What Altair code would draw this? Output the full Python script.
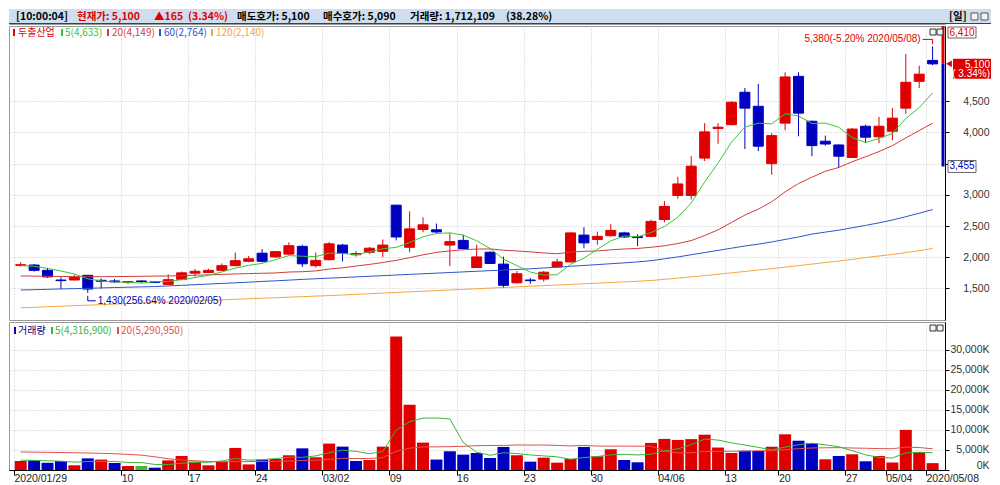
import altair as alt
import pandas as pd

# ---------------- data ----------------
stock_name = "두출산업"
hdr_time = "10:00:04"
cur_price = 5100
change = 165
change_pct = 3.34
ask_price = 5100
bid_price = 5090
vol_today = 1712109
vol_ratio = 38.28
upper_limit = 6410
lower_limit = 3455
hi_date = "2020/05/08"
lo_date = "2020/02/05"

opens = [1870, 1875, 1790, 1635, 1635, 1710, 1630, 1620, 1595, 1620, 1605, 1565, 1645, 1745, 1755,
         1790, 1865, 1935, 2065, 2005, 2050, 2175, 1865, 1960, 2195, 2040, 2080, 2095, 2835, 2160,
         2445, 2440, 2195, 2270, 1835, 2080, 1890, 1590, 1635, 1650, 1845, 1925, 2355, 2285, 2345,
         2390, 2330, 2335, 2605, 2990, 2990, 3590, 4065, 4125, 4645, 4420, 3500, 4150, 4900, 4180,
         3860, 3800, 3600, 4100, 3930, 4020, 4390, 4820, 5155]
highs = [1920, 1892, 1830, 1680, 1720, 1715, 1660, 1650, 1615, 1630, 1612, 1725, 1770, 1810, 1815,
         1900, 2075, 2020, 2130, 2100, 2240, 2200, 2075, 2245, 2215, 2100, 2165, 2285, 2840, 2735,
         2640, 2540, 2390, 2360, 2200, 2095, 2010, 1780, 1665, 1780, 1975, 2395, 2480, 2410, 2530,
         2410, 2370, 2600, 2900, 3290, 3620, 4150, 4150, 4500, 4713, 4777, 3990, 4965, 4965, 4190,
         3950, 3805, 4070, 4125, 4250, 4390, 5258, 5070, 5380]
lows = [1850, 1770, 1670, 1490, 1630, 1430, 1500, 1590, 1570, 1590, 1585, 1555, 1630, 1690, 1745,
        1780, 1855, 1920, 1920, 1990, 2040, 1845, 1835, 1950, 1935, 2010, 2050, 2000, 2270, 2080,
        2400, 2380, 1860, 2125, 1830, 1890, 1505, 1580, 1575, 1610, 1830, 1915, 2145, 2200, 2330,
        2310, 2180, 2320, 2560, 2940, 2925, 3540, 3820, 4115, 3735, 3700, 3323, 4035, 3940, 3620,
        3790, 3430, 3590, 3830, 3830, 3875, 4297, 4713, 5080]
closes = [1880, 1790, 1685, 1625, 1680, 1490, 1615, 1605, 1610, 1610, 1595, 1640, 1750, 1775, 1790,
          1865, 1945, 1975, 1935, 2090, 2185, 1895, 1950, 2215, 2065, 2060, 2145, 2195, 2325, 2455,
          2520, 2405, 2250, 2140, 2005, 1900, 1550, 1735, 1625, 1760, 1925, 2390, 2230, 2335, 2430,
          2325, 2315, 2575, 2815, 3175, 3460, 4010, 4085, 4485, 4390, 3780, 3950, 4890, 4310, 3790,
          3815, 3620, 4055, 3925, 4100, 4230, 4805, 4935, 5100]
# volume in thousands of shares
volumes = [2250, 2400, 1800, 2250, 1170, 2900, 2600, 1750, 1000, 1000, 580, 2400, 3500, 2080, 1170,
           2080, 5500, 1400, 2600, 2750, 3670, 5400, 3170, 6580, 5830, 2250, 2500, 5830, 33300, 16250,
           6830, 2600, 4670, 3830, 4250, 3000, 5750, 3670, 2080, 3080, 1830, 2750, 5750, 3420, 5170,
           2500, 1920, 6750, 7750, 7500, 7700, 8800, 5600, 4250, 4800, 4750, 5800, 8900, 7300, 6670,
           2670, 3500, 3920, 2170, 3500, 1870, 10000, 4500, 1712]
ma5 = [1865, 1855, 1820, 1780, 1732, 1654, 1619, 1603, 1600, 1586, 1607, 1612, 1641, 1674, 1710,
       1764, 1825, 1870, 1902, 1962, 2026, 2016, 2011, 2067, 2062, 2037, 2087, 2136, 2158, 2236,
       2328, 2380, 2391, 2354, 2264, 2140, 1969, 1866, 1763, 1714, 1719, 1887, 1986, 2128, 2262,
       2342, 2327, 2396, 2492, 2641, 2868, 3207, 3509, 3843, 4086, 4150, 4138, 4299, 4264, 4144,
       4151, 4085, 3918, 3841, 3903, 3986, 4223, 4399, 4633]
ma20 = [1700, 1698, 1695, 1692, 1690, 1688, 1688, 1690, 1692, 1695, 1698, 1700, 1705, 1712, 1718,
        1725, 1732, 1738, 1743, 1748, 1763, 1768, 1781, 1811, 1830, 1859, 1885, 1915, 1950, 1993,
        2039, 2077, 2102, 2120, 2131, 2133, 2113, 2101, 2086, 2069, 2056, 2081, 2095, 2101, 2119,
        2132, 2141, 2160, 2184, 2220, 2267, 2348, 2439, 2557, 2676, 2770, 2890, 3048, 3182, 3283,
        3378, 3439, 3531, 3610, 3694, 3789, 3913, 4031, 4149]
ma60 = [1475, 1480, 1486, 1492, 1497, 1502, 1508, 1514, 1520, 1525, 1530, 1540, 1550, 1560, 1570,
        1580, 1590, 1600, 1612, 1622, 1633, 1645, 1655, 1665, 1675, 1685, 1695, 1705, 1715, 1725,
        1735, 1745, 1755, 1765, 1775, 1785, 1795, 1805, 1815, 1828, 1840, 1855, 1868, 1882, 1896,
        1910, 1925, 1945, 1975, 2005, 2040, 2075, 2110, 2145, 2180, 2210, 2245, 2285, 2325, 2371,
        2403, 2434, 2473, 2511, 2551, 2597, 2650, 2706, 2764]
ma120 = [1190, 1198, 1207, 1215, 1224, 1232, 1241, 1249, 1258, 1266, 1275, 1283, 1292, 1300, 1309,
         1317, 1326, 1334, 1343, 1351, 1360, 1368, 1377, 1385, 1395, 1405, 1415, 1425, 1435, 1445,
         1455, 1465, 1475, 1485, 1495, 1505, 1515, 1525, 1535, 1545, 1555, 1565, 1575, 1585, 1595,
         1605, 1615, 1627, 1645, 1665, 1685, 1705, 1727, 1750, 1772, 1795, 1818, 1842, 1866, 1890,
         1915, 1940, 1965, 1995, 2020, 2045, 2075, 2105, 2140]
vma5 = [2450, 2400, 2300, 2200, 1974, 2104, 2144, 2134, 1884, 1850, 1386, 1346, 1696, 1912, 1946,
        2246, 2866, 2446, 2550, 2866, 3184, 3164, 3518, 4314, 4930, 4646, 4066, 4598, 9942, 12026,
        12942, 12962, 12730, 6836, 4436, 3670, 4300, 4100, 3750, 3516, 3282, 2682, 3098, 3366, 3784,
        3918, 3752, 3952, 4818, 5284, 6324, 7700, 7470, 6770, 6230, 5640, 5040, 5700, 6310, 6684,
        6268, 5800, 4804, 3778, 3146, 2986, 4286, 4402, 4316.9]
vma20 = [4500, 4450, 4400, 4350, 4300, 4250, 4150, 4050, 3900, 3700, 3300, 2800, 2500, 2300, 2100,
         2050, 2100, 2100, 2130, 2159, 2230, 2380, 2449, 2665, 2898, 2866, 2861, 3065, 4680, 5442,
         5755, 5765, 5823, 5911, 6065, 6111, 6123, 6237, 6211, 6227, 6135, 6003, 6132, 5974, 5941,
         5953, 5924, 5970, 4693, 4255, 4299, 4609, 4655, 4676, 4704, 4791, 4794, 5055, 5316, 5496,
         5538, 5575, 5484, 5421, 5338, 5306, 5710, 5598, 5290.95]

tick_days = [0, 8, 13, 18, 23, 28, 33, 38, 43, 48, 53, 57, 62, 65, 68]
tick_labels = ["2020/01/29", "10", "17", "24", "03/02", "09", "16", "23", "30", "04/06",
               "13", "20", "27", "05/04", "2020/05/08"]
price_ticks = [1500, 2000, 2500, 3000, 3500, 4000, 4500]
vol_ticks = [0, 5000, 10000, 15000, 20000, 25000, 30000]

# ---------------- layout / style ----------------
W, HH, PH, VH = 936, 15, 294, 148
X_DOMAIN = [-0.5, 68.55]
P_DOMAIN = [994, 5707]
V_DOMAIN = [0, 36900]

RED = "#e00000"
BLUE = "#0000c0"
FLAT = "#4fb43c"
MA5C, MA20C, MA60C, MA120C = "#3cc43c", "#d23c3c", "#2d55c8", "#f5a541"
VMA5C, VMA20C = "#3cb43c", "#e05050"
GRID = "#c8c8c8"
KR = "Noto Sans CJK KR"
NUM = "Liberation Sans"

n = len(closes)
days = list(range(n))
cdir = ["up" if c >= o else "down" for o, c in zip(opens, closes)]
vdir = ["up"] + ["up" if closes[k] > closes[k - 1] else ("down" if closes[k] < closes[k - 1] else "flat")
                 for k in range(1, n)]

df = pd.DataFrame(dict(i=days, open=opens, high=highs, low=lows, close=closes, vol=volumes,
                       ma5=ma5, ma20=ma20, ma60=ma60, ma120=ma120, vma5=vma5, vma20=vma20,
                       cdir=cdir, vdir=vdir))

hi_val = max(highs)
hi_idx = highs.index(hi_val)
lo_val = min(lows)
lo_idx = lows.index(lo_val)
df_hi = pd.DataFrame({"i": [hi_idx], "p": [hi_val],
                      "t": [f"{hi_val:,}(-{(1 - cur_price / hi_val) * 100:.2f}% {hi_date})"]})
df_lo = pd.DataFrame({"i": [lo_idx], "p": [lo_val],
                      "t": [f"{lo_val:,}({(cur_price / lo_val - 1) * 100:.2f}% {lo_date})"]})
df_lim = pd.DataFrame({"cur": [cur_price], "upper": [upper_limit], "lower": [lower_limit],
                       "cur_t": [f"{cur_price:,}"], "pct_t": [f"( {change_pct:.2f}%)"],
                       "low_t": [f"{lower_limit:,}"]})
one = pd.DataFrame({"k": [0]})

tick_pos = [d - 0.5 for d in tick_days]
label_expr = ("[" + ",".join(f"'{l}'" for l in tick_labels) + "][indexof([" +
              ",".join(str(p) for p in tick_pos) + "], datum.value)]")
# the 3,500 label sits under the lower-limit box in the reference
price_label_expr = f"abs(datum.value - {lower_limit}) < 100 ? '' : format(datum.value, ',')"

xscale = alt.Scale(domain=X_DOMAIN, nice=False, zero=False)
pscale = alt.Scale(domain=P_DOMAIN, nice=False, zero=False)
vscale = alt.Scale(domain=V_DOMAIN, nice=False, zero=True)
cscale = alt.Scale(domain=["up", "down", "flat"], range=[RED, BLUE, FLAT])

px_axis = alt.Axis(values=tick_pos, labels=False, ticks=False, domain=False, grid=True,
                   gridDash=[1, 2], gridColor=GRID, title=None, zindex=0)
vx_axis = alt.Axis(values=tick_pos, labelExpr=label_expr, grid=True, gridDash=[1, 2], gridColor=GRID,
                   tickSize=5, tickColor="#000", domainColor="#000", labelAlign="left",
                   labelBaseline="top", labelPadding=-2, labelFont=NUM, labelFontSize=10.5,
                   labelColor="#222", labelOverlap=False, labelFlush=False, labelBound=False,
                   title=None, zindex=0)
py_axis = alt.Axis(orient="right", values=price_ticks, labelExpr=price_label_expr,
                   grid=True, gridDash=[1, 2], gridColor=GRID, tickSize=4, tickColor="#000",
                   domainColor="#000", labelAlign="right", labelPadding=40, labelFont=NUM,
                   labelFontSize=10.5, labelColor="#333", title=None, zindex=0)
vy_axis = alt.Axis(orient="right", values=vol_ticks, labelExpr="format(datum.value, ',') + 'K'",
                   grid=True, gridDash=[1, 2], gridColor=GRID, tickSize=4, tickColor="#000",
                   domainColor="#000", labelAlign="right", labelPadding=40, labelFont=NUM,
                   labelFontSize=10.5, labelColor="#333", labelFlush=True, title=None, zindex=0)


def PX(field="i"):
    return alt.X(f"{field}:Q", scale=xscale, axis=px_axis)


def VX(field="i"):
    return alt.X(f"{field}:Q", scale=xscale, axis=vx_axis)


def PY(field):
    return alt.Y(f"{field}:Q", scale=pscale, axis=py_axis)


def txt(s, x, y, color, size=10, bold=False, align="left", font=KR):
    return alt.Chart(one).mark_text(text=s, align=align, baseline="middle", color=color,
                                    fontSize=size, fontWeight="bold" if bold else "normal",
                                    font=font).encode(x=alt.value(x), y=alt.value(y))


def box(x1, x2, y1, y2, fill, stroke=None):
    kw = dict(fill=fill)
    if stroke:
        kw.update(stroke=stroke, strokeWidth=1)
    return alt.Chart(one).mark_rect(**kw).encode(x=alt.value(x1), x2=alt.value(x2),
                                                 y=alt.value(y1), y2=alt.value(y2))


# ---------------- header ----------------
hdr_segments = [
    (f"[{hdr_time}]", 7, "#000"),
    (f"현재가: {cur_price:,}", 68, RED),
    (f"▲{change}", 145, RED),
    (f"({change_pct:.2f}%)", 179, RED),
    (f"매도호가: {ask_price:,}", 228, "#000"),
    (f"매수호가: {bid_price:,}", 314, "#000"),
    (f"거래량: {vol_today:,}", 401, "#000"),
    (f"({vol_ratio:.2f}%)", 497, "#000"),
    ("[일]", W + 4, "#000"),
]
hdr_layers = [box(0, W + 46, 0, HH, "#cfdeee")]
hdr_layers.append(alt.Chart(one).mark_rule(color="#404040").encode(
    x=alt.value(0), x2=alt.value(W + 46), y=alt.value(HH - 0.5)))
for s, x, c in hdr_segments:
    hdr_layers.append(txt(s, x, 7.5, c, size=10.5, bold=True))
hdr_layers.append(box(W + 26, W + 33, 4, 11, "#f4f4f4", "#555"))
hdr_layers.append(box(W + 36, W + 43, 4, 11, "#f4f4f4", "#555"))
header = alt.layer(*hdr_layers).properties(width=W, height=HH)

# ---------------- price panel ----------------
base = alt.Chart(df)
ccolor = alt.Color("cdir:N", scale=cscale, legend=None)
wicks = base.mark_rule(strokeWidth=1).encode(x=PX(), y=PY("low"), y2=alt.Y2("high"), color=ccolor)
bodies = base.mark_bar(size=10, strokeWidth=1).encode(
    x=PX(), y=PY("open"), y2=alt.Y2("close"), color=ccolor,
    stroke=alt.Stroke("cdir:N", scale=cscale, legend=None))
l120 = base.mark_line(color=MA120C, strokeWidth=1).encode(x=PX(), y=PY("ma120"))
l60 = base.mark_line(color=MA60C, strokeWidth=1).encode(x=PX(), y=PY("ma60"))
l20 = base.mark_line(color=MA20C, strokeWidth=1).encode(x=PX(), y=PY("ma20"))
l5 = base.mark_line(color=MA5C, strokeWidth=1).encode(x=PX(), y=PY("ma5"))

hi = alt.Chart(df_hi)
hi_text = hi.mark_text(align="right", baseline="middle", dx=-12, dy=-7, color=RED, fontSize=10,
                       font=NUM).encode(x=PX(), y=PY("p"), text="t:N")
hi_h = hi.mark_rule(color=RED, xOffset=-10, x2Offset=0, yOffset=-7, y2Offset=-7).encode(
    x=PX(), x2=alt.X2("i"), y=PY("p"), y2=alt.Y2("p"))
hi_v = hi.mark_rule(color=RED, yOffset=-7, y2Offset=-2).encode(x=PX(), y=PY("p"), y2=alt.Y2("p"))

lo = alt.Chart(df_lo)
lo_text = lo.mark_text(align="left", baseline="middle", dx=10, dy=8, color=BLUE, fontSize=10,
                       font=NUM).encode(x=PX(), y=PY("p"), text="t:N")
lo_v = lo.mark_rule(color=BLUE, yOffset=3, y2Offset=8).encode(x=PX(), y=PY("p"), y2=alt.Y2("p"))
lo_h = lo.mark_rule(color=BLUE, xOffset=0, x2Offset=8, yOffset=8, y2Offset=8).encode(
    x=PX(), x2=alt.X2("i"), y=PY("p"), y2=alt.Y2("p"))

lim = alt.Chart(df_lim)
red_bar = lim.mark_rule(color=RED, strokeWidth=3, clip=True).encode(
    x=alt.value(W - 2), y=PY("cur"), y2=alt.Y2("upper"))
blue_bar = lim.mark_rule(color=BLUE, strokeWidth=3, clip=True).encode(
    x=alt.value(W - 2), y=PY("cur"), y2=alt.Y2("lower"))
up_box = box(W + 3, W + 31, 1, 12, "white", "#666")
up_txt = txt(f"{upper_limit:,}", W + 17, 6.5, RED, size=10, align="center", font=NUM)
low_box = lim.mark_rect(fill="white", stroke="#666", strokeWidth=1, yOffset=-6, y2Offset=6).encode(
    x=alt.value(W + 3), x2=alt.value(W + 31), y=PY("lower"), y2=alt.Y2("lower"))
low_txt = lim.mark_text(color=BLUE, fontSize=10, font=NUM, align="center", baseline="middle").encode(
    x=alt.value(W + 17), y=PY("lower"), text="low_t:N")
cur_box = lim.mark_rect(fill=RED, yOffset=-5, y2Offset=15).encode(
    x=alt.value(W + 8), x2=alt.value(W + 46), y=PY("cur"), y2=alt.Y2("cur"))
cur_tri = lim.mark_point(shape="triangle-left", filled=True, color=RED, size=45, opacity=1).encode(
    x=alt.value(W + 4), y=PY("cur"))
cur_txt = lim.mark_text(color="white", fontSize=10, font=NUM, align="right", baseline="middle",
                        dy=1).encode(x=alt.value(W + 45), y=PY("cur"), text="cur_t:N")
pct_txt = lim.mark_text(color="white", fontSize=10, font=NUM, align="right", baseline="middle",
                        dy=10).encode(x=alt.value(W + 45), y=PY("cur"), text="pct_t:N")

p_legend = [
    (stock_name, 4, 9, RED),
    (f"5({ma5[-1]:,})", 52, 56, MA5C),
    (f"20({ma20[-1]:,})", 98, 103, MA20C),
    (f"60({ma60[-1]:,})", 150, 155, MA60C),
    (f"120({ma120[-1]:,})", 202, 207, MA120C),
]
leg_layers = []
for s, mx, tx, c in p_legend:
    leg_layers.append(box(mx, mx + 2, 3, 10, c))
    leg_layers.append(txt(s, tx, 6.5, c, size=10))
icons_p = [box(W - 15, W - 9, 3, 9, "#f4f4f4", "#333"), box(W - 8, W - 2, 3, 9, "#f4f4f4", "#333")]

price = alt.layer(
    wicks, bodies, l120, l60, l20, l5,
    hi_h, hi_v, hi_text, lo_v, lo_h, lo_text,
    red_bar, blue_bar, up_box, up_txt, low_box, low_txt, cur_box, cur_tri, cur_txt, pct_txt,
    *leg_layers, *icons_p
).properties(width=W, height=PH)

# ---------------- volume panel ----------------
vbars = base.mark_bar(size=12).encode(
    x=VX(), y=alt.Y("vol:Q", scale=vscale, axis=vy_axis),
    color=alt.Color("vdir:N", scale=cscale, legend=None))
v20 = base.mark_line(color=VMA20C, strokeWidth=1).encode(
    x=VX(), y=alt.Y("vma20:Q", scale=vscale, axis=vy_axis))
v5 = base.mark_line(color=VMA5C, strokeWidth=1).encode(
    x=VX(), y=alt.Y("vma5:Q", scale=vscale, axis=vy_axis))

v_legend = [
    ("거래량", 5, 9, "#000080", BLUE),
    (f"5({round(vma5[-1] * 1000):,})", 42, 46, VMA5C, VMA5C),
    (f"20({round(vma20[-1] * 1000):,})", 108, 112, VMA20C, VMA20C),
]
vleg_layers = []
for s, mx, tx, c, mc in v_legend:
    vleg_layers.append(box(mx, mx + 2, 5, 12, mc))
    vleg_layers.append(txt(s, tx, 8.5, c, size=10))
icons_v = [box(W - 15, W - 9, 3, 9, "#f4f4f4", "#333"), box(W - 8, W - 2, 3, 9, "#f4f4f4", "#333")]

volume = alt.layer(vbars, v20, v5, *vleg_layers, *icons_v).properties(width=W, height=VH)

chart = alt.vconcat(header, price, volume, spacing=0).properties(padding=0).configure_view(
    stroke="#9a9a9a", strokeWidth=1)

chart.save("out.html", embed_options={"renderer": "svg", "actions": False})
